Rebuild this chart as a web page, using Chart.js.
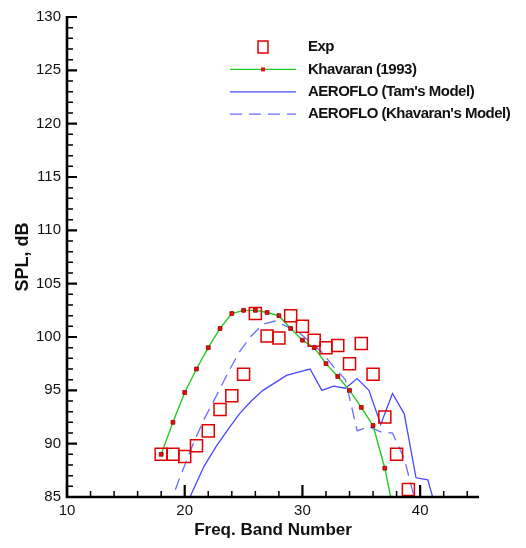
<!DOCTYPE html>
<html>
<head>
<meta charset="utf-8">
<script src="https://cdn.jsdelivr.net/npm/chart.js@4.4.1/dist/chart.umd.min.js"></script>
<style>
  body { margin: 0; background: #fff; }
  #grafico { display: block; }
</style>
</head>
<body>
<canvas id="grafico" width="526" height="548"></canvas>
<script>
// measured band numbers and SPL (dB)
let exp_bands = [18, 19, 20, 21, 22, 23, 24, 25, 26, 27, 28, 29, 30, 31, 32, 33, 34, 35, 36, 37, 38, 39];
let exp_spl = [89.0, 89.0, 88.8, 89.8, 91.2, 93.2, 94.5, 96.5, 102.2, 100.1, 99.9, 102.0, 101.0, 99.7, 99.0, 99.2, 97.5, 99.4, 96.5, 92.5, 89.0, 85.7];

// Khavaran (1993)
let khav_bands = [18, 19, 20, 21, 22, 23, 24, 25, 26, 27, 28, 29, 30, 31, 32, 33, 34, 35, 36, 37, 38];
let khav_spl = [89.0, 92.0, 94.8, 97.0, 99.0, 100.8, 102.2, 102.5, 102.5, 102.3, 102.0, 100.8, 99.7, 99.0, 97.5, 96.3, 95.0, 93.4, 91.7, 87.7, 82.3];

// AEROFLO (Tam's Model)
let tam_bands = [19.65, 20.65, 21.65, 22.65, 23.65, 24.65, 25.65, 26.65, 27.65, 28.65, 29.65, 30.65, 31.65, 32.65, 33.65, 34.65, 35.65, 36.65, 37.65, 38.65, 39.65, 40.65, 41.65];
let tam_spl = [83.0, 85.5, 87.9, 89.7, 91.3, 92.8, 94.0, 95.0, 95.7, 96.4, 96.7, 97.0, 95.0, 95.4, 95.2, 96.1, 95.0, 91.8, 94.7, 92.8, 86.8, 86.6, 82.7];

// AEROFLO (Khavaran's Model)
let akm_bands = [18.65, 19.65, 20.65, 21.65, 22.65, 23.65, 24.65, 25.65, 26.65, 27.65, 28.65, 29.65, 30.65, 31.65, 32.65, 33.65, 34.65, 35.65, 36.65, 37.65, 38.65, 39.65];
let akm_spl = [84.0, 87.0, 89.8, 92.3, 94.4, 96.6, 98.6, 100.1, 101.2, 101.5, 101.0, 100.5, 99.5, 98.6, 97.2, 96.0, 91.2, 91.6, 91.1, 91.0, 88.6, 84.3];

let x_ticks = [10, 20, 30, 40];
let y_ticks = [85, 90, 95, 100, 105, 110, 115, 120, 125, 130];

function puntos(xs, ys) {
    return xs.map((x, i) => ({ x: x, y: ys[i] }));
}

const fuente = '"Liberation Sans", Arial, Helvetica, sans-serif';

// tecplot style axes: only left and bottom, ticks pointing inward
const ejes = {
    id: 'ejes',
    afterDraw(chart) {
        const { ctx, chartArea: a, scales: { x, y } } = chart;
        ctx.save();
        ctx.strokeStyle = '#000';
        ctx.lineCap = 'butt';

        ctx.lineWidth = 1.5;
        ctx.beginPath();
        for (let v = 10; v <= 45; v += 2) {
            if (v % 10 === 0) continue;
            const px = x.getPixelForValue(v);
            ctx.moveTo(px, a.bottom);
            ctx.lineTo(px, a.bottom - 6);
        }
        for (let v = 85; v <= 130; v += 1) {
            if (v % 5 === 0) continue;
            const py = y.getPixelForValue(v);
            ctx.moveTo(a.left, py);
            ctx.lineTo(a.left + 6, py);
        }
        ctx.stroke();

        ctx.lineWidth = 2.2;
        ctx.beginPath();
        x_ticks.forEach((v) => {
            const px = x.getPixelForValue(v);
            ctx.moveTo(px, a.bottom);
            ctx.lineTo(px, a.bottom - 12);
        });
        y_ticks.forEach((v) => {
            const py = y.getPixelForValue(v);
            ctx.moveTo(a.left, py);
            ctx.lineTo(a.left + 10, py);
        });
        ctx.stroke();

        ctx.lineWidth = 2.6;
        ctx.beginPath();
        ctx.moveTo(a.left, a.top - 1);
        ctx.lineTo(a.left, a.bottom);
        ctx.lineTo(a.right, a.bottom);
        ctx.stroke();
        ctx.restore();
    }
};

// legend drawn inside the plot, top right
const leyenda = {
    id: 'leyenda',
    afterDraw(chart) {
        const ctx = chart.ctx;
        const x0 = 230, x1 = 296, tx = 308;
        let yy = 47;
        ctx.save();
        ctx.font = 'bold 15px ' + fuente;
        ctx.letterSpacing = '-0.5px';
        ctx.textBaseline = 'middle';
        ctx.textAlign = 'left';
        chart.data.datasets.forEach((ds) => {
            const cx = (x0 + x1) / 2;
            if (ds.showLine === false) {
                ctx.strokeStyle = ds.pointBorderColor;
                ctx.lineWidth = 1.5;
                ctx.strokeRect(cx - 5, yy - 6, 10, 12);
            } else {
                ctx.strokeStyle = ds.borderColor;
                ctx.lineWidth = ds.borderWidth;
                ctx.setLineDash(ds.borderDash || []);
                ctx.beginPath();
                ctx.moveTo(x0, yy);
                ctx.lineTo(x1, yy);
                ctx.stroke();
                ctx.setLineDash([]);
                if (ds.pointRadius > 0) {
                    ctx.fillStyle = ds.pointBackgroundColor;
                    ctx.fillRect(cx - 2, yy - 2, 4, 4);
                }
            }
            ctx.fillStyle = '#111';
            ctx.fillText(ds.label, tx, yy);
            yy += 22.4;
        });
        ctx.restore();
    }
};

const data = {
    datasets: [
        {
            label: 'Exp',
            data: puntos(exp_bands, exp_spl),
            showLine: false,
            pointStyle: 'rect',
            pointRadius: 8.5,
            pointBorderWidth: 1.5,
            pointBorderColor: '#e00000',
            pointBackgroundColor: 'rgba(0,0,0,0)',
            borderColor: '#e00000',
            backgroundColor: 'rgba(0,0,0,0)'
        },
        {
            label: 'Khavaran (1993)',
            data: puntos(khav_bands, khav_spl),
            borderColor: '#22cc22',
            borderWidth: 1.4,
            pointStyle: 'rect',
            pointRadius: 2.7,
            pointBorderWidth: 0.8,
            pointBackgroundColor: '#e81010',
            pointBorderColor: '#8a0000',
            tension: 0
        },
        {
            label: "AEROFLO (Tam's Model)",
            data: puntos(tam_bands, tam_spl),
            borderColor: '#4848ff',
            borderWidth: 1.3,
            pointRadius: 0,
            tension: 0
        },
        {
            label: "AEROFLO (Khavaran's Model)",
            data: puntos(akm_bands, akm_spl),
            borderColor: '#6a6aff',
            borderWidth: 1.3,
            borderDash: [12, 7],
            pointRadius: 0,
            tension: 0
        }
    ]
};

const config = {
    type: 'line',
    data: data,
    options: {
        responsive: false,
        animation: false,
        devicePixelRatio: 1,
        layout: { padding: { top: 17, right: 47, left: 0, bottom: 0 } },
        plugins: {
            legend: { display: false },
            tooltip: { enabled: false }
        },
        scales: {
            x: {
                type: 'linear',
                min: 10,
                max: 45,
                afterBuildTicks: (s) => { s.ticks = x_ticks.map((v) => ({ value: v })); },
                afterFit: (s) => { s.height = 51; },
                grid: { display: false, drawTicks: false },
                border: { display: false },
                ticks: {
                    padding: 5,
                    maxRotation: 0,
                    color: '#111',
                    font: { family: fuente, size: 15 }
                },
                title: {
                    display: true,
                    text: 'Freq. Band Number',
                    color: '#111',
                    padding: { top: 0, bottom: 7 },
                    font: { family: fuente, size: 17, weight: 'bold' }
                }
            },
            y: {
                type: 'linear',
                min: 85,
                max: 130,
                afterBuildTicks: (s) => { s.ticks = y_ticks.map((v) => ({ value: v })); },
                afterFit: (s) => { s.width = 67; },
                grid: { display: false, drawTicks: false },
                border: { display: false },
                ticks: {
                    padding: 6,
                    color: '#111',
                    font: { family: fuente, size: 15 }
                },
                title: {
                    display: true,
                    text: 'SPL, dB',
                    color: '#111',
                    padding: { top: 12, bottom: 0 },
                    font: { family: fuente, size: 18, weight: 'bold' }
                }
            }
        }
    },
    plugins: [ejes, leyenda]
};

let myChart = new Chart(document.querySelector('#grafico').getContext('2d'), config);
</script>
</body>
</html>
